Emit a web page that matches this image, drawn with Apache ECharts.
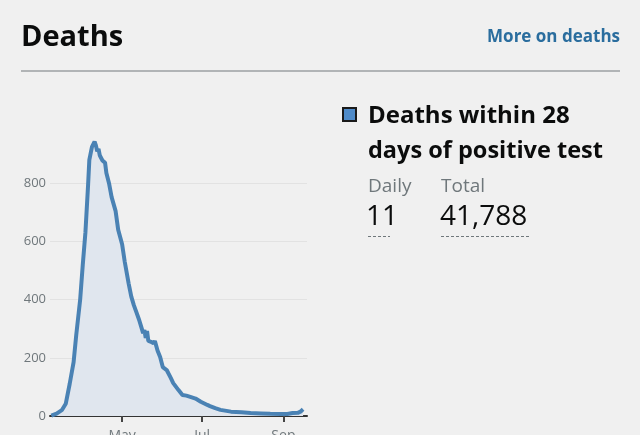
<!DOCTYPE html>
<html>
<head>
<meta charset="utf-8">
<script src="https://cdn.jsdelivr.net/npm/echarts@6/dist/echarts.min.js"></script>
<style>
html,body{margin:0;padding:0;background:#f0f0f0;}
#chart{width:640px;height:435px;}
</style>
</head>
<body>
<div id="chart"></div>
<script>
// Data
const dates = ['2020-03-08','2020-03-12','2020-03-16','2020-03-19','2020-03-22','2020-03-25','2020-03-27','2020-03-30',
 '2020-04-01','2020-04-03','2020-04-05','2020-04-06','2020-04-08','2020-04-10','2020-04-11','2020-04-12','2020-04-13',
 '2020-04-14','2020-04-15','2020-04-16','2020-04-18','2020-04-19','2020-04-21','2020-04-23','2020-04-26','2020-04-28',
 '2020-05-01','2020-05-03','2020-05-06','2020-05-08','2020-05-10','2020-05-12','2020-05-14','2020-05-16','2020-05-17',
 '2020-05-18','2020-05-19','2020-05-20','2020-05-21','2020-05-23','2020-05-25','2020-05-26','2020-05-28','2020-05-30',
 '2020-06-01','2020-06-04','2020-06-07','2020-06-09','2020-06-13','2020-06-16','2020-06-19','2020-06-22','2020-06-26',
 '2020-06-30','2020-07-05','2020-07-07','2020-07-11','2020-07-15','2020-07-23','2020-07-31','2020-08-07','2020-08-15',
 '2020-08-22','2020-08-30','2020-09-04','2020-09-08','2020-09-12','2020-09-14','2020-09-16'];
const deaths = [1,8,20,42,110,185,278,400,
 520,630,790,880,925,943,930,910,918,
 895,900,878,870,835,800,752,705,640,
 590,530,455,410,380,355,330,300,285,
 295,268,292,258,255,250,258,225,203,
 168,158,132,113,89,72,70,66,60,
 49,38,34,27,21,15,13,10,9,
 8,7,7,10,11,15,23];
const xTickDates = ['2020-05-01','2020-07-01','2020-09-01'];
const monthNames = ['Jan','Feb','Mar','Apr','May','Jun','Jul','Aug','Sep','Oct','Nov','Dec'];
const seriesName = 'Deaths within 28 days of positive test';
const dailyValue = '11';
const totalValue = '41,788';

const ts = s => new Date(s + 'T00:00:00').getTime();
const FONT = '"Open Sans", "Noto Sans", sans-serif';

const chart = echarts.init(document.getElementById('chart'), null, {renderer: 'canvas'});
chart.setOption({
  backgroundColor: '#f0f0f0',
  animation: false,
  grid: {left: 50, right: 333, top: 125, bottom: 19, outerBoundsMode: 'none', containLabel: false},
  xAxis: {
    type: 'value',
    min: ts('2020-03-07'),
    max: ts('2020-09-19'),
    axisLine: {show: true, lineStyle: {color: '#333', width: 2}},
    axisTick: {show: true, length: 6, lineStyle: {color: '#444', width: 2}, customValues: xTickDates.map(ts)},
    axisLabel: {
      customValues: xTickDates.map(ts),
      margin: 13,
      color: '#6f777b',
      fontSize: 14,
      fontFamily: FONT,
      formatter: v => monthNames[new Date(v).getMonth()]
    },
    splitLine: {show: false}
  },
  yAxis: {
    type: 'value',
    min: 0,
    max: 1000,
    interval: 200,
    axisLine: {show: false},
    axisTick: {show: false},
    axisLabel: {
      margin: 4,
      color: '#6f777b',
      fontSize: 13,
      fontFamily: FONT,
      showMaxLabel: false,
      formatter: v => (v >= 1000 ? '' : String(v))
    },
    splitLine: {show: true, showMaxLine: false, lineStyle: {color: '#e2e2e2', width: 1}}
  },
  series: [{
    name: seriesName,
    type: 'line',
    data: dates.map((d, i) => [ts(d), deaths[i]]),
    showSymbol: false,
    symbol: 'none',
    smooth: false,
    lineStyle: {color: '#4a82b4', width: 4},
    areaStyle: {color: '#e0e6ee', opacity: 1},
    z: 3
  }],
  graphic: [
    {type: 'text', left: 21, top: 23, style: {text: 'Deaths', font: 'bold 29px ' + FONT, fill: '#0b0c0c'}},
    {type: 'text', right: 20, top: 29, style: {text: 'More on deaths', font: 'bold 17px ' + FONT, fill: '#2a6d9e'}},
    {type: 'rect', shape: {x: 21, y: 70, width: 599, height: 2}, style: {fill: '#b1b4b6'}},
    {type: 'rect', shape: {x: 343, y: 108, width: 13, height: 13}, style: {fill: '#4f8bc9', stroke: '#1a1a1a', lineWidth: 2}},
    {type: 'text', left: 368, top: 104, style: {text: 'Deaths within 28', font: 'bold 24px ' + FONT, fill: '#0b0c0c'}},
    {type: 'text', left: 368, top: 139, style: {text: 'days of positive test', font: 'bold 23.5px ' + FONT, fill: '#0b0c0c'}},
    {type: 'text', left: 368, top: 177, style: {text: 'Daily', font: '19px ' + FONT, fill: '#6f777b'}},
    {type: 'text', left: 441, top: 177, style: {text: 'Total', font: '19px ' + FONT, fill: '#6f777b'}},
    {type: 'text', left: 366, top: 203, style: {text: dailyValue, font: '28px ' + FONT, fill: '#0b0c0c'}},
    {type: 'text', left: 440, top: 203, style: {text: totalValue, font: '28px ' + FONT, fill: '#0b0c0c'}},
    {type: 'line', shape: {x1: 368, y1: 236.5, x2: 390, y2: 236.5}, style: {stroke: '#6f777b', lineWidth: 1, lineDash: [3, 2]}},
    {type: 'line', shape: {x1: 441, y1: 236.5, x2: 531, y2: 236.5}, style: {stroke: '#6f777b', lineWidth: 1, lineDash: [3, 2]}}
  ]
});
</script>
</body>
</html>
